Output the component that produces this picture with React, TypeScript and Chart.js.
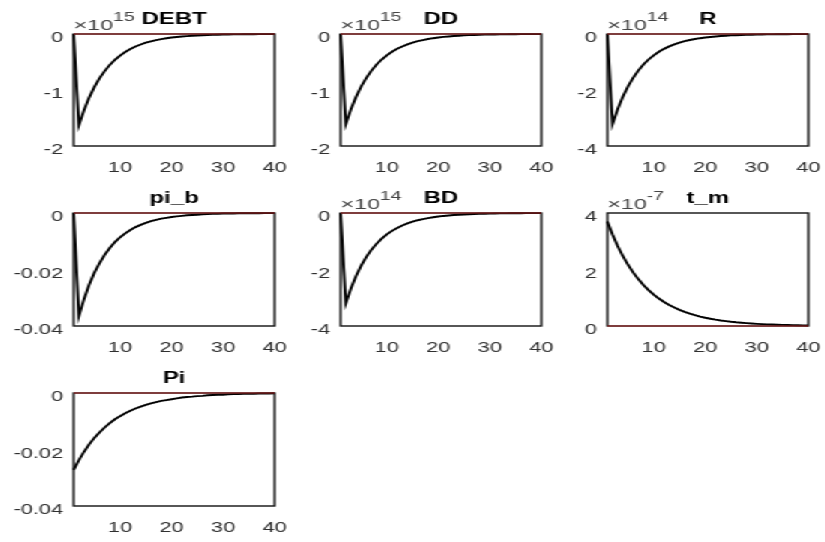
import React, { useEffect, useRef } from 'react';
import { Chart, registerables } from 'chart.js';

Chart.register(...registerables);

// ---------------- data ----------------
const PERIODS = [1, 2, 3, 4, 5, 6, 7, 8, 9, 10, 11, 12, 13, 14, 15, 16, 17, 18, 19, 20,
  21, 22, 23, 24, 25, 26, 27, 28, 29, 30, 31, 32, 33, 34, 35, 36, 37, 38, 39, 40];

const ZERO_X = [1, 40];
const ZERO_Y = [0, 0];

// DEBT, in units of 1e15
const DEBT = [0, -1.630, -1.361, -1.136, -0.949, -0.792, -0.662, -0.552, -0.461, -0.385,
  -0.322, -0.269, -0.224, -0.187, -0.156, -0.131, -0.109, -0.091, -0.076, -0.063,
  -0.053, -0.044, -0.037, -0.031, -0.026, -0.022, -0.018, -0.015, -0.013, -0.010,
  -0.009, -0.007, -0.006, -0.005, -0.004, -0.004, -0.003, -0.002, -0.002, -0.002];

// DD, in units of 1e15
const DD = [0, -1.610, -1.344, -1.123, -0.937, -0.783, -0.654, -0.546, -0.456, -0.380,
  -0.318, -0.265, -0.222, -0.185, -0.154, -0.129, -0.108, -0.090, -0.075, -0.063,
  -0.052, -0.044, -0.036, -0.030, -0.025, -0.021, -0.018, -0.015, -0.012, -0.010,
  -0.009, -0.007, -0.006, -0.005, -0.004, -0.003, -0.003, -0.002, -0.002, -0.002];

// R, in units of 1e14
const R = [0, -3.220, -2.689, -2.245, -1.875, -1.565, -1.307, -1.091, -0.911, -0.761,
  -0.635, -0.531, -0.443, -0.370, -0.309, -0.258, -0.215, -0.180, -0.150, -0.125,
  -0.105, -0.087, -0.073, -0.061, -0.051, -0.043, -0.035, -0.030, -0.025, -0.021,
  -0.017, -0.014, -0.012, -0.010, -0.008, -0.007, -0.006, -0.005, -0.004, -0.003];

const PI_B = [0, -0.0365, -0.0305, -0.0254, -0.0212, -0.0178, -0.0148, -0.0124, -0.0103, -0.0086,
  -0.0072, -0.0060, -0.0050, -0.0042, -0.0035, -0.0029, -0.0024, -0.0020, -0.0017, -0.0014,
  -0.0012, -0.0010, -0.0008, -0.0007, -0.0006, -0.0005, -0.0004, -0.0003, -0.0003, -0.0002,
  -0.0002, -0.0002, -0.0001, -0.0001, -0.0001, -0.0001, -0.0001, -0.00005, -0.00004, -0.00003];

// BD, in units of 1e14
const BD = [0, -3.200, -2.672, -2.231, -1.863, -1.556, -1.299, -1.085, -0.906, -0.756,
  -0.631, -0.528, -0.440, -0.368, -0.307, -0.256, -0.214, -0.179, -0.149, -0.125,
  -0.104, -0.087, -0.073, -0.061, -0.051, -0.042, -0.035, -0.029, -0.025, -0.021,
  -0.017, -0.014, -0.012, -0.010, -0.008, -0.007, -0.006, -0.005, -0.004, -0.003];

// t_m, in units of 1e-7
const T_M = [3.700, 3.238, 2.833, 2.479, 2.169, 1.898, 1.661, 1.453, 1.271, 1.112,
  0.973, 0.852, 0.745, 0.652, 0.571, 0.499, 0.437, 0.382, 0.334, 0.293,
  0.256, 0.224, 0.196, 0.172, 0.150, 0.131, 0.115, 0.101, 0.088, 0.077,
  0.067, 0.059, 0.052, 0.045, 0.039, 0.035, 0.030, 0.026, 0.023, 0.020];

const PI = [-0.0272, -0.0238, -0.0208, -0.0182, -0.0159, -0.0140, -0.0122, -0.0107, -0.0093, -0.0082,
  -0.0072, -0.0063, -0.0055, -0.0048, -0.0042, -0.0037, -0.0032, -0.0028, -0.0025, -0.0022,
  -0.0019, -0.0016, -0.0014, -0.0013, -0.0011, -0.0010, -0.0008, -0.0007, -0.0006, -0.0006,
  -0.0005, -0.0004, -0.0004, -0.0003, -0.0003, -0.0003, -0.0002, -0.0002, -0.0002, -0.0001];

const X_TICKS = [10, 20, 30, 40];
const Y_TICKS_DEBT = [-2, -1, 0];
const Y_TICKS_DD = [-2, -1, 0];
const Y_TICKS_R = [-4, -2, 0];
const Y_TICKS_PI_B = [-0.04, -0.02, 0];
const Y_TICKS_BD = [-4, -2, 0];
const Y_TICKS_T_M = [0, 2, 4];
const Y_TICKS_PI = [-0.04, -0.02, 0];

// ---------------- layout / style ----------------
const SX = 1.5; // horizontal stretch of the whole figure
const FONT = '"Liberation Sans", Arial, Helvetica, sans-serif';
const COL_LEFT_PX = [73.3, 340, 607];
const ROW_TOP = [34, 213, 393];
const ROW_H = [112, 113, 113];
const BOX_W_L = 134;
const YAXIS_W = 42;
const RIGHT_PAD = 26;
const TOP_PAD = 34;
const XAXIS_H = 36;
const TICK_COLOR = '#303030';
const ZERO_COLOR = '#a82626';

type PanelSpec = {
  name: string;
  values: number[];
  exponent: string;
  yTicks: number[];
  col: number;
  row: number;
};

const PANELS: PanelSpec[] = [
  { name: 'DEBT', values: DEBT, exponent: '15', yTicks: Y_TICKS_DEBT, col: 0, row: 0 },
  { name: 'DD', values: DD, exponent: '15', yTicks: Y_TICKS_DD, col: 1, row: 0 },
  { name: 'R', values: R, exponent: '14', yTicks: Y_TICKS_R, col: 2, row: 0 },
  { name: 'pi_b', values: PI_B, exponent: '', yTicks: Y_TICKS_PI_B, col: 0, row: 1 },
  { name: 'BD', values: BD, exponent: '14', yTicks: Y_TICKS_BD, col: 1, row: 1 },
  { name: 't_m', values: T_M, exponent: '-7', yTicks: Y_TICKS_T_M, col: 2, row: 1 },
  { name: 'Pi', values: PI, exponent: '', yTicks: Y_TICKS_PI, col: 0, row: 2 },
];

const panelDecor = {
  id: 'panelDecor',
  beforeDatasetsDraw(chart: any) {
    const { ctx, chartArea: a } = chart;
    ctx.save();
    ctx.strokeStyle = '#111';
    ctx.lineWidth = 1.4;
    ctx.strokeRect(a.left, a.top, a.right - a.left, a.bottom - a.top);
    ctx.restore();
  },
  afterDraw(chart: any, _args: any, opts: any) {
    const { ctx, chartArea: a } = chart;
    ctx.save();
    ctx.textBaseline = 'alphabetic';
    ctx.textAlign = 'center';
    ctx.fillStyle = '#000';
    ctx.font = `bold 16px ${FONT}`;
    ctx.fillText(opts.title, (a.left + a.right) / 2, a.top - 10);
    if (opts.exponent) {
      ctx.textAlign = 'left';
      ctx.fillStyle = '#444';
      ctx.font = `15.5px ${FONT}`;
      const base = '\u00d710';
      ctx.fillText(base, a.left, a.top - 4);
      const w = ctx.measureText(base).width;
      ctx.font = `13px ${FONT}`;
      ctx.fillText(opts.exponent, a.left + w, a.top - 13);
    }
    ctx.restore();
  },
};

function Panel({ spec }: { spec: PanelSpec }) {
  const ref = useRef<HTMLCanvasElement | null>(null);
  const width = BOX_W_L + YAXIS_W + RIGHT_PAD;
  const height = TOP_PAD + ROW_H[spec.row] + XAXIS_H;
  const left = COL_LEFT_PX[spec.col] / SX - YAXIS_W;
  const top = ROW_TOP[spec.row] - TOP_PAD;

  useEffect(() => {
    if (!ref.current) return;
    const yt = spec.yTicks;
    const chart = new Chart(ref.current, {
      type: 'line',
      data: {
        datasets: [
          {
            label: 'zero',
            data: ZERO_X.map((x, i) => ({ x, y: ZERO_Y[i] })),
            borderColor: ZERO_COLOR,
            borderWidth: 1.2,
            pointRadius: 0,
            clip: 4,
          } as any,
          {
            label: spec.name,
            data: PERIODS.map((x, i) => ({ x, y: spec.values[i] })),
            borderColor: '#000',
            borderWidth: 1.9,
            pointRadius: 0,
            clip: 4,
          } as any,
        ],
      },
      options: {
        animation: false,
        responsive: false,
        events: [],
        layout: { padding: { top: TOP_PAD, right: RIGHT_PAD, left: 0, bottom: 0 } },
        plugins: {
          legend: { display: false },
          tooltip: { enabled: false },
          title: { display: false },
          panelDecor: { title: spec.name, exponent: spec.exponent },
        } as any,
        scales: {
          x: {
            type: 'linear',
            min: 1,
            max: 40,
            grid: { display: false, drawTicks: false },
            border: { display: false },
            afterBuildTicks: (s: any) => {
              s.ticks = X_TICKS.map((v) => ({ value: v }));
            },
            afterFit: (s: any) => {
              s.height = XAXIS_H;
            },
            ticks: {
              padding: 13,
              autoSkip: false,
              maxRotation: 0,
              color: TICK_COLOR,
              font: { family: FONT, size: 14.5 },
              callback: (v: any) => String(v),
            },
          },
          y: {
            type: 'linear',
            min: yt[0],
            max: yt[yt.length - 1],
            grid: { display: false, drawTicks: false },
            border: { display: false },
            afterBuildTicks: (s: any) => {
              s.ticks = yt.map((v) => ({ value: v }));
            },
            afterFit: (s: any) => {
              s.width = YAXIS_W;
            },
            ticks: {
              padding: 7,
              labelOffset: 4,
              autoSkip: false,
              color: TICK_COLOR,
              font: { family: FONT, size: 14.5 },
              callback: (v: any) => String(v),
            },
          },
        },
      },
      plugins: [panelDecor as any],
    });
    return () => chart.destroy();
  }, [spec]);

  return (
    <canvas
      ref={ref}
      width={width}
      height={height}
      style={{ position: 'absolute', left, top }}
    />
  );
}

export default function App() {
  return (
    <div
      style={{
        position: 'absolute',
        left: 0,
        top: 0,
        width: 825,
        height: 542,
        background: '#fff',
        overflow: 'hidden',
      }}
    >
      <div
        style={{
          position: 'absolute',
          left: 0,
          top: 0,
          width: 825 / SX,
          height: 542,
          transform: `scaleX(${SX})`,
          transformOrigin: '0 0',
        }}
      >
        {PANELS.map((p) => (
          <Panel key={p.name} spec={p} />
        ))}
      </div>
    </div>
  );
}
